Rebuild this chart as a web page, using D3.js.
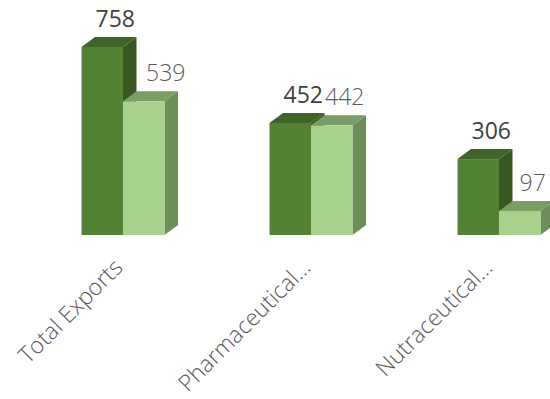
<!DOCTYPE html>
<html>
<head>
<meta charset="utf-8">
<script src="https://cdn.jsdelivr.net/npm/d3@7"></script>
<style>
html,body{margin:0;padding:0;background:#fff;}
svg{display:block;}
</style>
</head>
<body>
<svg id="chart" width="550" height="399"></svg>
<script>
const categories = ["Total Exports", "Pharmaceutical…", "Nutraceutical…"];
const series1 = [758, 452, 306];
const series2 = [539, 442, 97];

const W = 550, H = 399;
const svg = d3.select("#chart");
const baseY = 235;
const depthX = 13.5, depthY = -10;

const x = d3.scaleBand().domain(categories).range([29, 593]).paddingInner(0).paddingOuter(0);
const y = d3.scaleLinear().domain([0, 758]).range([baseY, 47]);
const barW = 41.5;

const seriesDefs = [
  {vals: series1, off: -barW, front: "#548235", top: "#3f6428", side: "#385723", label: "#404040", weight: 400},
  {vals: series2, off: 0, front: "#a9d18e", top: "#7a9d64", side: "#6d8e59", label: "#595959", weight: 300}
];

const g = svg.append("g");
categories.forEach((c, i) => {
  const cx = x(c) + x.bandwidth() / 2;
  seriesDefs.forEach(s => {
    const x0 = cx + s.off, x1 = x0 + barW;
    const yt = y(s.vals[i]);
    const bar = g.append("g");
    bar.append("polygon")
      .attr("points", [[x1, yt], [x1 + depthX, yt + depthY], [x1 + depthX, baseY + depthY], [x1, baseY]].map(p => p.join(",")).join(" "))
      .attr("fill", s.side);
    bar.append("polygon")
      .attr("points", [[x0, yt], [x0 + depthX, yt + depthY], [x1 + depthX, yt + depthY], [x1, yt]].map(p => p.join(",")).join(" "))
      .attr("fill", s.top);
    bar.append("rect")
      .attr("x", x0).attr("y", yt).attr("width", barW).attr("height", baseY - yt)
      .attr("fill", s.front);
  });
});

// value labels
categories.forEach((c, i) => {
  const cx = x(c) + x.bandwidth() / 2;
  seriesDefs.forEach((s, si) => {
    const x0 = cx + s.off;
    const yt = y(s.vals[i]);
    const extra = (si === 1 && i === 0) ? 9 : 0;
    svg.append("text")
      .attr("x", x0 + barW / 2 + 13 + extra)
      .attr("y", yt - 20)
      .attr("text-anchor", "middle")
      .attr("font-family", "'Open Sans', sans-serif")
      .attr("font-size", 23)
      .attr("font-weight", s.weight)
      .attr("fill", s.label)
      .text(s.vals[i]);
  });
});

// category labels
categories.forEach((c, i) => {
  const cx = x(c) + x.bandwidth() / 2;
  svg.append("text")
    .attr("transform", `translate(${cx + (i === 2 ? -5 : 1)},${269}) rotate(-45)`)
    .attr("text-anchor", "end")
    .attr("font-family", "'Open Sans', sans-serif")
    .attr("font-size", 23)
    .attr("font-weight", 300)
    .attr("fill", "#595959")
    .text(c);
});
</script>
</body>
</html>
